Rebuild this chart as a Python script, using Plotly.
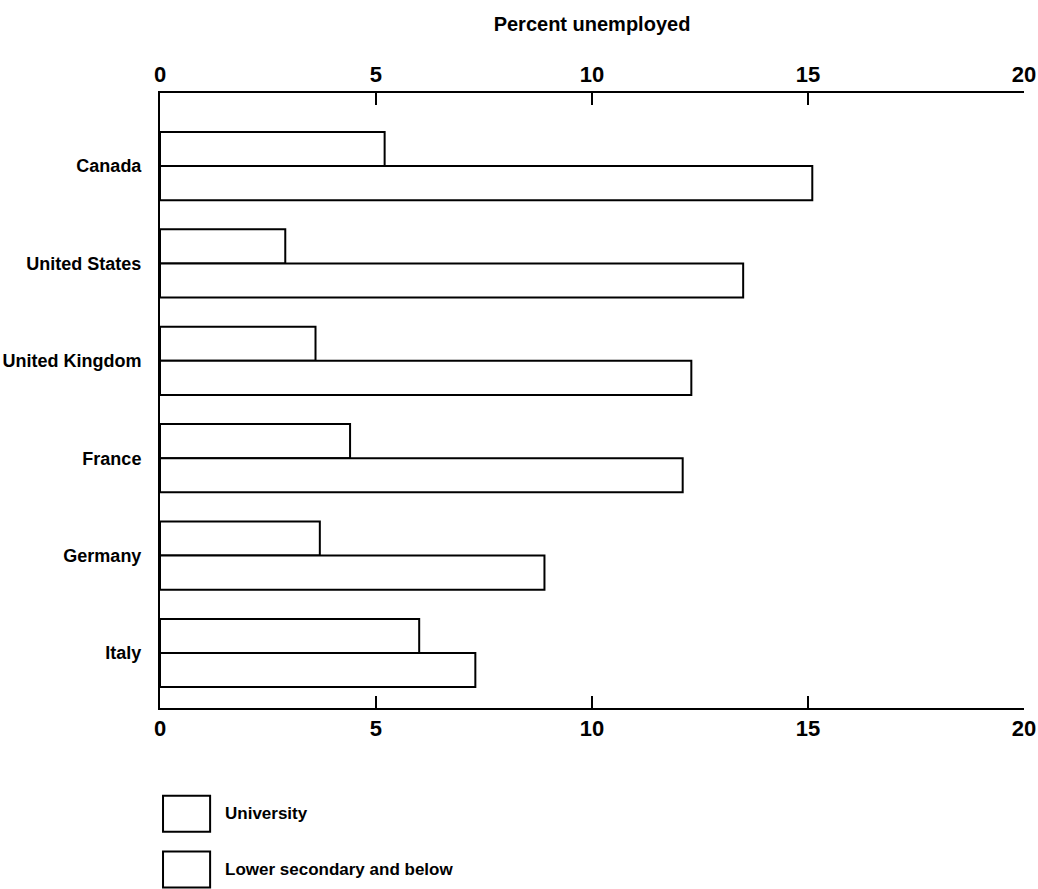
import plotly.graph_objects as go

countries = ["Canada", "United States", "United Kingdom", "France", "Germany", "Italy"]
university = [5.2, 2.9, 3.6, 4.4, 3.7, 6.0]
lower_secondary = [15.1, 13.5, 12.3, 12.1, 8.9, 7.3]
series_names = ["University", "Lower secondary and below"]
x_ticks = [0, 5, 10, 15, 20]

FONT = "Liberation Sans, Arial, sans-serif"

fig = go.Figure()
for name, vals in zip(series_names, [university, lower_secondary]):
    fig.add_trace(go.Bar(
        y=countries, x=vals, orientation="h", name=name,
        marker=dict(color="white", line=dict(color="black", width=2)),
        showlegend=False,
    ))
# invisible copy so that the top axis is drawn
fig.add_trace(go.Bar(y=countries, x=university, orientation="h", xaxis="x2",
                     opacity=0, hoverinfo="skip", showlegend=False))

axis_common = dict(
    range=[0, 20.001], tickvals=x_ticks, ticktext=[str(t) for t in x_ticks],
    ticks="inside", ticklen=12, tickwidth=2, tickcolor="black",
    showline=True, linewidth=2, linecolor="black", showgrid=False, zeroline=False,
    automargin=False,
    tickfont=dict(family=FONT, size=22, color="black", weight="bold"),
)

fig.update_layout(
    width=1038, height=889,
    margin=dict(l=160, r=14, t=93, b=181),
    paper_bgcolor="white", plot_bgcolor="white",
    barmode="group", bargap=0.30, bargroupgap=0,
    xaxis=dict(side="bottom", **axis_common),
    xaxis2=dict(side="top", overlaying="x", anchor="y",
                title=dict(text="Percent unemployed", standoff=25,
                           font=dict(family=FONT, size=20, color="black", weight="bold")),
                **axis_common),
    yaxis=dict(
        range=[5.565, -0.75], showline=True, linewidth=2, linecolor="black",
        ticks="", showgrid=False, zeroline=False, ticklabelstandoff=13, automargin=False,
        tickfont=dict(family=FONT, size=18, color="black", weight="bold"),
    ),
)

# Legend drawn as large outlined boxes with labels
legend_rows = [(-0.172, series_names[0]), (-0.2626, series_names[1])]
for ycen, label in legend_rows:
    fig.add_shape(type="rect", xref="paper", yref="paper",
                  x0=0.0035, x1=0.058, y0=ycen - 0.0293, y1=ycen + 0.0293,
                  line=dict(color="black", width=2), fillcolor="white")
    fig.add_annotation(xref="paper", yref="paper", x=0.073, y=ycen, text=label,
                       showarrow=False, xanchor="left", yanchor="middle",
                       font=dict(family=FONT, size=17, color="black", weight="bold"))

post = """
document.body.style.margin = '0';
document.body.style.overflow = 'hidden';
"""
fig.write_html("out.html", config={"displayModeBar": False}, post_script=post)
